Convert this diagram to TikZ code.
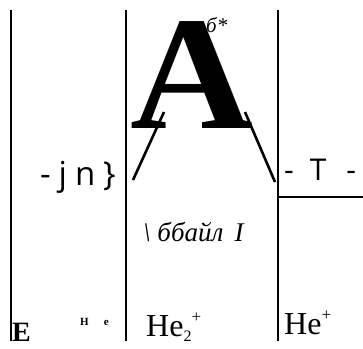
\documentclass[tikz,border=0pt]{standalone}
\usepackage{fontspec}
\setmainfont{Liberation Serif}
\newfontfamily\sansls[LetterSpace=24]{Open Sans}
\newfontfamily\sansf{Open Sans}
\tikzset{
  rule/.style={line width=1.1pt},
  slash/.style={line width=2.6pt},
  txt/.style={inner sep=0pt, anchor=base west}
}
\begin{document}
\begin{tikzpicture}[x=1pt,y=-1pt]
\useasboundingbox (0,0) rectangle (363,348);
% rules
\coordinate (l1t) at (11,10);  \coordinate (l1b) at (11,341);
\coordinate (l2t) at (126,10); \coordinate (l2b) at (126,341);
\coordinate (l3t) at (278,10); \coordinate (l3b) at (278,341);
\coordinate (hm) at (278,197); \coordinate (hr) at (363,197);
\draw[rule] (l1t) -- (l1b);
\draw[rule] (l2t) -- (l2b);
\draw[rule] (l3t) -- (l3b);
\draw[rule] (hm) -- (hr);
% big A
\node[txt] (bigA) at (130,128) {\scalebox{1.05}[1]{\fontsize{162}{162}\selectfont\bfseries A}};
\node[txt] (sup) at (206,32) {\fontsize{21}{21}\selectfont\itshape б*};
% slashes
\coordinate (s1a) at (164,112); \coordinate (s1b) at (133,180);
\coordinate (s2a) at (245,112); \coordinate (s2b) at (275,182);
\draw[slash] (s1a) -- (s1b);
\draw[slash] (s2a) -- (s2b);
% texts
\node[txt] (jn) at (40,185) {\sansls\fontsize{33}{33}\selectfont -jn\}};
\node[txt] (T) at (284,180) {\sansf\fontsize{30}{30}\selectfont -\hspace{16pt}T\hspace{20pt}-};
\node[txt] (bb) at (143,241) {\fontsize{27}{27}\selectfont\itshape \textbackslash\ ббайл \,I};
\node[txt] (he2) at (146,336) {\fontsize{32}{32}\selectfont He\raisebox{-5pt}{\fontsize{16}{16}\selectfont 2}\raisebox{14pt}{\fontsize{17}{17}\selectfont +}};
\node[txt] (he1) at (284,334) {\fontsize{32}{32}\selectfont He\raisebox{14pt}{\fontsize{17}{17}\selectfont +}};
\node[txt] (E) at (12,341) {\fontsize{28}{28}\selectfont\bfseries E};
\node[txt] (He) at (80,325) {\fontsize{11}{11}\selectfont\bfseries H\hspace{15pt}e};
\end{tikzpicture}
\end{document}
